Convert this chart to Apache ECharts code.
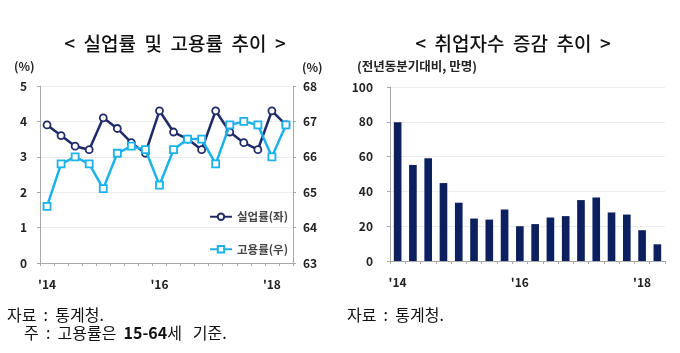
<!DOCTYPE html>
<html>
<head>
<meta charset="utf-8">
<script src="https://cdn.jsdelivr.net/npm/echarts@6/dist/echarts.min.js"></script>
<style>
  html, body { margin: 0; padding: 0; background: #fff; }
  #chart { width: 680px; height: 353px; }
</style>
</head>
<body>
<div id="chart"></div>
<script>
// 분기 (2014.1Q ~ 2018.2Q)
var quarters = ['14.1', '14.2', '14.3', '14.4', '15.1', '15.2', '15.3', '15.4',
    '16.1', '16.2', '16.3', '16.4', '17.1', '17.2', '17.3', '17.4', '18.1', '18.2'];
// x축에 표시되는 연도 라벨
var yearLabels = {'14.1': "'14", '16.1': "'16", '18.1': "'18"};

// 실업률(좌, %)
var unempRate = [3.9, 3.6, 3.3, 3.2, 4.1, 3.8, 3.4, 3.1, 4.3, 3.7, 3.5, 3.2, 4.3, 3.7, 3.4, 3.2, 4.3, 3.9];
// 고용률(우, %)
var empRate = [64.6, 65.8, 66.0, 65.8, 65.1, 66.1, 66.3, 66.2, 65.2, 66.2, 66.5, 66.5, 65.8, 66.9, 67.0, 66.9, 66.0, 66.9];
// 취업자수 증감 (전년동분기대비, 만명)
var empChange = [79.8, 55.2, 59.0, 44.8, 33.5, 24.4, 23.8, 29.6, 20.0, 21.2, 25.0, 25.8, 35.0, 36.5, 27.9, 26.7, 17.7, 9.6];

var leftTicks = [0, 1, 2, 3, 4, 5];
var rightTicks = [63, 64, 65, 66, 67, 68];

var FONT = '"Noto Sans CJK KR", "Noto Sans", sans-serif';
var NAVY = '#1f2b69';
var CYAN = '#1bb2ec';
var BAR = '#0c1f5e';
var AXIS = '#a8a8a8';
var GRID = '#ececec';

var tickLabel = {
    fontFamily: FONT, fontSize: 12, fontWeight: 'bold', color: '#222'
};

function xAxisFor(gridIndex) {
    return {
        type: 'category',
        gridIndex: gridIndex,
        data: quarters,
        boundaryGap: true,
        axisLine: {lineStyle: {color: AXIS, width: 1}},
        axisTick: {show: true, interval: 0, length: 3, lineStyle: {color: AXIS}},
        axisLabel: Object.assign({
            interval: 0,
            margin: 15,
            formatter: function (v) { return yearLabels[v] || ''; }
        }, tickLabel)
    };
}

var chart = echarts.init(document.getElementById('chart'), null, {renderer: 'canvas'});

var titleStyle = {fontFamily: FONT, fontSize: 19, fontWeight: 500, color: '#111'};

chart.setOption({
    animation: false,
    backgroundColor: '#fff',
    title: [{
        text: '<  실업률  및  고용률  추이  >',
        left: 170, top: 29, textAlign: 'center',
        textStyle: titleStyle
    }, {
        text: '<  취업자수  증감  추이  >',
        left: 508, top: 29, textAlign: 'center',
        textStyle: titleStyle
    }],
    grid: [
        {left: 40, right: 387, top: 86, bottom: 90},
        {left: 390, right: 15, top: 87, bottom: 92}
    ],
    legend: {
        orient: 'vertical',
        left: 204, top: 206,
        itemGap: 21,
        itemWidth: 22, itemHeight: 8,
        textStyle: {fontFamily: FONT, fontSize: 11.5, fontWeight: 'bold', color: '#444'},
        data: ['실업률(좌)', '고용률(우)']
    },
    xAxis: [xAxisFor(0), xAxisFor(1)],
    yAxis: [{
        type: 'value', gridIndex: 0, position: 'left',
        min: leftTicks[0], max: leftTicks[leftTicks.length - 1], interval: 1,
        axisLine: {show: true, lineStyle: {color: AXIS}},
        axisTick: {show: true, length: 3, lineStyle: {color: AXIS}},
        splitLine: {show: true, lineStyle: {color: GRID}},
        axisLabel: Object.assign({margin: 13}, tickLabel)
    }, {
        type: 'value', gridIndex: 0, position: 'right',
        min: rightTicks[0], max: rightTicks[rightTicks.length - 1], interval: 1,
        axisLine: {show: true, lineStyle: {color: AXIS}},
        axisTick: {show: true, length: 3, lineStyle: {color: AXIS}},
        splitLine: {show: false},
        axisLabel: Object.assign({margin: 10}, tickLabel)
    }, {
        type: 'value', gridIndex: 1,
        min: 0, max: 100, interval: 20,
        axisLine: {show: true, lineStyle: {color: AXIS}},
        axisTick: {show: true, length: 3, lineStyle: {color: AXIS}},
        splitLine: {show: true, lineStyle: {color: GRID}},
        axisLabel: Object.assign({margin: 17}, tickLabel)
    }],
    series: [{
        name: '실업률(좌)',
        type: 'line',
        xAxisIndex: 0, yAxisIndex: 0,
        data: unempRate,
        symbol: 'circle', symbolSize: 7,
        lineStyle: {color: NAVY, width: 2.5},
        itemStyle: {color: '#fff', borderColor: NAVY, borderWidth: 1.8},
        z: 3
    }, {
        name: '고용률(우)',
        type: 'line',
        xAxisIndex: 0, yAxisIndex: 1,
        data: empRate,
        symbol: 'rect', symbolSize: 7,
        lineStyle: {color: CYAN, width: 2.5},
        itemStyle: {color: '#fff', borderColor: CYAN, borderWidth: 1.8},
        z: 4
    }, {
        name: '취업자수',
        type: 'bar',
        xAxisIndex: 1, yAxisIndex: 2,
        data: empChange,
        barWidth: '50%',
        itemStyle: {color: BAR}
    }],
    graphic: [{
        type: 'text', left: 14, top: 60,
        style: {text: '(%)', font: 'bold 12px ' + FONT, fill: '#222'}
    }, {
        type: 'text', left: 302, top: 61,
        style: {text: '(%)', font: 'bold 12px ' + FONT, fill: '#222'}
    }, {
        type: 'text', left: 357, top: 60,
        style: {text: '(전년동분기대비, 만명)', font: 'bold 12.5px ' + FONT, fill: '#222'}
    }, {
        type: 'text', left: 7, top: 307,
        style: {text: '자료  :  통계청.', font: '16px ' + FONT, fill: '#111'}
    }, {
        type: 'text', left: 24, top: 325,
        style: {
            text: '주  :  고용률은  {b|15-64}세   기준.',
            font: '16px ' + FONT, fill: '#111',
            rich: {b: {fontFamily: FONT, fontSize: 16, fontWeight: 'bold', fill: '#111'}}
        }
    }, {
        type: 'text', left: 347, top: 307,
        style: {text: '자료  :  통계청.', font: '16px ' + FONT, fill: '#111'}
    }]
});
</script>
</body>
</html>
